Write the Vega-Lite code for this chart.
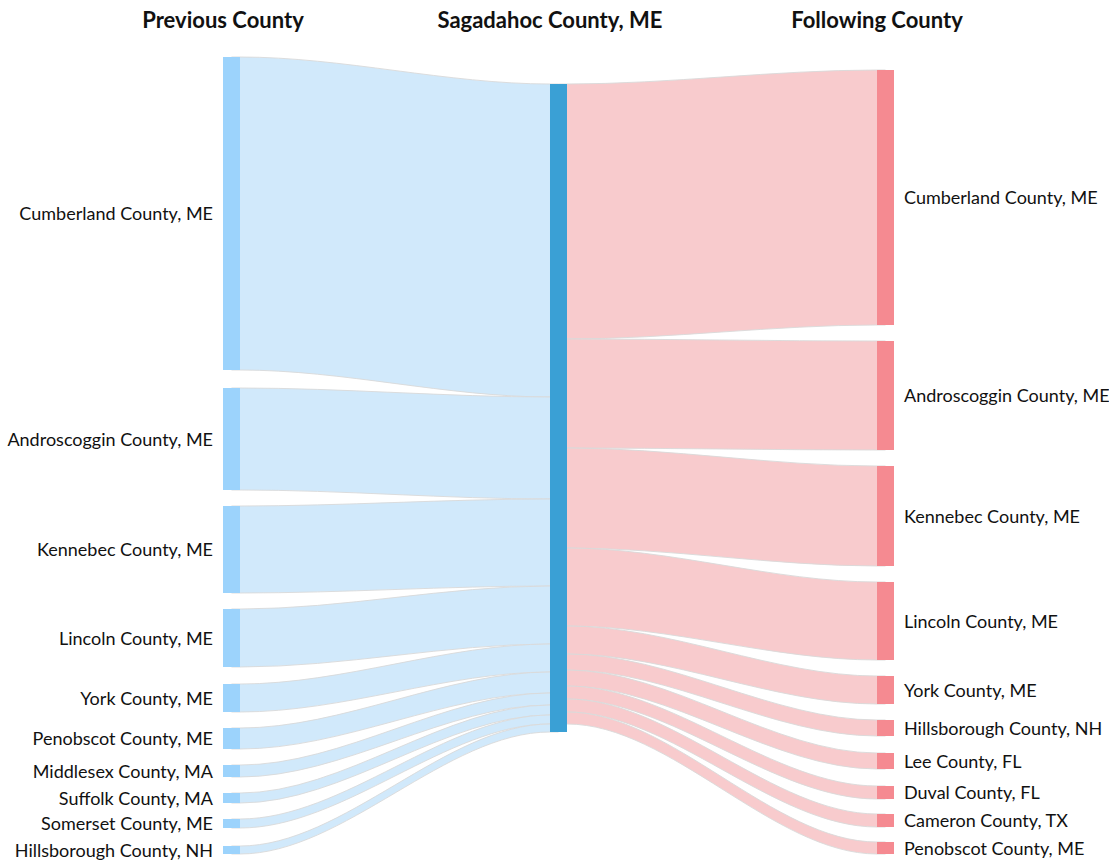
{
  "$schema": "https://vega.github.io/schema/vega-lite/v6.json",
  "width": 1109,
  "height": 863,
  "padding": 0,
  "autosize": {"type": "none"},
  "background": "white",
  "config": {"view": {"stroke": null}, "font": "Lato", "scale": {"continuousPadding": 0}},
  "datasets": {
    "nodes": [
      {"stage": 0, "role": "left", "name": "Cumberland County, ME", "y0": 57, "y1": 370},
      {"stage": 0, "role": "left", "name": "Androscoggin County, ME", "y0": 388, "y1": 490},
      {"stage": 0, "role": "left", "name": "Kennebec County, ME", "y0": 506, "y1": 593},
      {"stage": 0, "role": "left", "name": "Lincoln County, ME", "y0": 609, "y1": 667},
      {"stage": 0, "role": "left", "name": "York County, ME", "y0": 684, "y1": 712},
      {"stage": 0, "role": "left", "name": "Penobscot County, ME", "y0": 728, "y1": 749},
      {"stage": 0, "role": "left", "name": "Middlesex County, MA", "y0": 765, "y1": 777},
      {"stage": 0, "role": "left", "name": "Suffolk County, MA", "y0": 793, "y1": 803},
      {"stage": 0, "role": "left", "name": "Somerset County, ME", "y0": 819, "y1": 828},
      {"stage": 0, "role": "left", "name": "Hillsborough County, NH", "y0": 846, "y1": 854},
      {"stage": 1, "role": "mid", "name": "Sagadahoc County, ME", "y0": 84, "y1": 732},
      {"stage": 2, "role": "right", "name": "Cumberland County, ME", "y0": 70, "y1": 325},
      {"stage": 2, "role": "right", "name": "Androscoggin County, ME", "y0": 341, "y1": 450},
      {"stage": 2, "role": "right", "name": "Kennebec County, ME", "y0": 466, "y1": 566},
      {"stage": 2, "role": "right", "name": "Lincoln County, ME", "y0": 582, "y1": 660},
      {"stage": 2, "role": "right", "name": "York County, ME", "y0": 676, "y1": 704},
      {"stage": 2, "role": "right", "name": "Hillsborough County, NH", "y0": 720, "y1": 736},
      {"stage": 2, "role": "right", "name": "Lee County, FL", "y0": 753, "y1": 769},
      {"stage": 2, "role": "right", "name": "Duval County, FL", "y0": 786, "y1": 799},
      {"stage": 2, "role": "right", "name": "Cameron County, TX", "y0": 814, "y1": 827},
      {"stage": 2, "role": "right", "name": "Penobscot County, ME", "y0": 842, "y1": 854}
    ],
    "headers": [
      {"stage": 0, "title": "Previous County", "y": 20},
      {"stage": 1, "title": "Sagadahoc County, ME", "y": 20},
      {"stage": 2, "title": "Following County", "y": 20}
    ],
    "links": [
      {"link": "in1", "side": "in", "x": 0, "y0": 57, "y1": 370},
      {"link": "in1", "side": "in", "x": 0.026, "y0": 57, "y1": 370},
      {"link": "in1", "side": "in", "x": 0.974, "y0": 84, "y1": 397},
      {"link": "in1", "side": "in", "x": 1, "y0": 84, "y1": 397},
      {"link": "in2", "side": "in", "x": 0, "y0": 388, "y1": 490},
      {"link": "in2", "side": "in", "x": 0.026, "y0": 388, "y1": 490},
      {"link": "in2", "side": "in", "x": 0.974, "y0": 397, "y1": 499},
      {"link": "in2", "side": "in", "x": 1, "y0": 397, "y1": 499},
      {"link": "in3", "side": "in", "x": 0, "y0": 506, "y1": 593},
      {"link": "in3", "side": "in", "x": 0.026, "y0": 506, "y1": 593},
      {"link": "in3", "side": "in", "x": 0.974, "y0": 499, "y1": 586},
      {"link": "in3", "side": "in", "x": 1, "y0": 499, "y1": 586},
      {"link": "in4", "side": "in", "x": 0, "y0": 609, "y1": 667},
      {"link": "in4", "side": "in", "x": 0.026, "y0": 609, "y1": 667},
      {"link": "in4", "side": "in", "x": 0.974, "y0": 586, "y1": 644},
      {"link": "in4", "side": "in", "x": 1, "y0": 586, "y1": 644},
      {"link": "in5", "side": "in", "x": 0, "y0": 684, "y1": 712},
      {"link": "in5", "side": "in", "x": 0.026, "y0": 684, "y1": 712},
      {"link": "in5", "side": "in", "x": 0.974, "y0": 644, "y1": 672},
      {"link": "in5", "side": "in", "x": 1, "y0": 644, "y1": 672},
      {"link": "in6", "side": "in", "x": 0, "y0": 728, "y1": 749},
      {"link": "in6", "side": "in", "x": 0.026, "y0": 728, "y1": 749},
      {"link": "in6", "side": "in", "x": 0.974, "y0": 672, "y1": 693},
      {"link": "in6", "side": "in", "x": 1, "y0": 672, "y1": 693},
      {"link": "in7", "side": "in", "x": 0, "y0": 765, "y1": 777},
      {"link": "in7", "side": "in", "x": 0.026, "y0": 765, "y1": 777},
      {"link": "in7", "side": "in", "x": 0.974, "y0": 693, "y1": 705},
      {"link": "in7", "side": "in", "x": 1, "y0": 693, "y1": 705},
      {"link": "in8", "side": "in", "x": 0, "y0": 793, "y1": 803},
      {"link": "in8", "side": "in", "x": 0.026, "y0": 793, "y1": 803},
      {"link": "in8", "side": "in", "x": 0.974, "y0": 705, "y1": 715},
      {"link": "in8", "side": "in", "x": 1, "y0": 705, "y1": 715},
      {"link": "in9", "side": "in", "x": 0, "y0": 819, "y1": 828},
      {"link": "in9", "side": "in", "x": 0.026, "y0": 819, "y1": 828},
      {"link": "in9", "side": "in", "x": 0.974, "y0": 715, "y1": 724},
      {"link": "in9", "side": "in", "x": 1, "y0": 715, "y1": 724},
      {"link": "in10", "side": "in", "x": 0, "y0": 846, "y1": 854},
      {"link": "in10", "side": "in", "x": 0.026, "y0": 846, "y1": 854},
      {"link": "in10", "side": "in", "x": 0.974, "y0": 724, "y1": 732},
      {"link": "in10", "side": "in", "x": 1, "y0": 724, "y1": 732},
      {"link": "out1", "side": "out", "x": 1, "y0": 84, "y1": 339},
      {"link": "out1", "side": "out", "x": 1.026, "y0": 84, "y1": 339},
      {"link": "out1", "side": "out", "x": 1.974, "y0": 70, "y1": 325},
      {"link": "out1", "side": "out", "x": 2, "y0": 70, "y1": 325},
      {"link": "out2", "side": "out", "x": 1, "y0": 339, "y1": 448},
      {"link": "out2", "side": "out", "x": 1.026, "y0": 339, "y1": 448},
      {"link": "out2", "side": "out", "x": 1.974, "y0": 341, "y1": 450},
      {"link": "out2", "side": "out", "x": 2, "y0": 341, "y1": 450},
      {"link": "out3", "side": "out", "x": 1, "y0": 448, "y1": 548},
      {"link": "out3", "side": "out", "x": 1.026, "y0": 448, "y1": 548},
      {"link": "out3", "side": "out", "x": 1.974, "y0": 466, "y1": 566},
      {"link": "out3", "side": "out", "x": 2, "y0": 466, "y1": 566},
      {"link": "out4", "side": "out", "x": 1, "y0": 548, "y1": 626},
      {"link": "out4", "side": "out", "x": 1.026, "y0": 548, "y1": 626},
      {"link": "out4", "side": "out", "x": 1.974, "y0": 582, "y1": 660},
      {"link": "out4", "side": "out", "x": 2, "y0": 582, "y1": 660},
      {"link": "out5", "side": "out", "x": 1, "y0": 626, "y1": 654},
      {"link": "out5", "side": "out", "x": 1.026, "y0": 626, "y1": 654},
      {"link": "out5", "side": "out", "x": 1.974, "y0": 676, "y1": 704},
      {"link": "out5", "side": "out", "x": 2, "y0": 676, "y1": 704},
      {"link": "out6", "side": "out", "x": 1, "y0": 654, "y1": 670},
      {"link": "out6", "side": "out", "x": 1.026, "y0": 654, "y1": 670},
      {"link": "out6", "side": "out", "x": 1.974, "y0": 720, "y1": 736},
      {"link": "out6", "side": "out", "x": 2, "y0": 720, "y1": 736},
      {"link": "out7", "side": "out", "x": 1, "y0": 670, "y1": 686},
      {"link": "out7", "side": "out", "x": 1.026, "y0": 670, "y1": 686},
      {"link": "out7", "side": "out", "x": 1.974, "y0": 753, "y1": 769},
      {"link": "out7", "side": "out", "x": 2, "y0": 753, "y1": 769},
      {"link": "out8", "side": "out", "x": 1, "y0": 686, "y1": 699},
      {"link": "out8", "side": "out", "x": 1.026, "y0": 686, "y1": 699},
      {"link": "out8", "side": "out", "x": 1.974, "y0": 786, "y1": 799},
      {"link": "out8", "side": "out", "x": 2, "y0": 786, "y1": 799},
      {"link": "out9", "side": "out", "x": 1, "y0": 699, "y1": 712},
      {"link": "out9", "side": "out", "x": 1.026, "y0": 699, "y1": 712},
      {"link": "out9", "side": "out", "x": 1.974, "y0": 814, "y1": 827},
      {"link": "out9", "side": "out", "x": 2, "y0": 814, "y1": 827},
      {"link": "out10", "side": "out", "x": 1, "y0": 712, "y1": 724},
      {"link": "out10", "side": "out", "x": 1.026, "y0": 712, "y1": 724},
      {"link": "out10", "side": "out", "x": 1.974, "y0": 842, "y1": 854},
      {"link": "out10", "side": "out", "x": 2, "y0": 842, "y1": 854}
    ]
  },
  "resolve": {"scale": {"color": "independent"}},
  "layer": [
    {
      "data": {"name": "links"},
      "mark": {"type": "area", "interpolate": "monotone", "stroke": "#d9d9d9", "strokeWidth": 1, "strokeOpacity": 0.9},
      "encoding": {
        "x": {"field": "x", "type": "quantitative", "scale": {"domain": [-0.70795, 2.68349], "nice": false, "zero": false, "padding": 0}, "axis": null},
        "y": {"field": "y0", "type": "quantitative", "stack": null, "scale": {"domain": [0, 863], "reverse": true, "nice": false, "zero": false, "padding": 0}, "axis": null},
        "y2": {"field": "y1"},
        "detail": {"field": "link"},
        "fill": {"field": "side", "type": "nominal", "scale": {"domain": ["in", "out"], "range": ["#d1e9fb", "#f8cbcd"]}, "legend": null}
      }
    },
    {
      "data": {"name": "nodes"},
      "mark": {"type": "bar", "width": 17},
      "encoding": {
        "x": {"field": "stage", "type": "quantitative"},
        "y": {"field": "y0", "type": "quantitative", "stack": null},
        "y2": {"field": "y1"},
        "color": {"field": "role", "type": "nominal", "scale": {"domain": ["left", "mid", "right"], "range": ["#9cd3fc", "#3aa0d5", "#f58a91"]}, "legend": null}
      }
    },
    {
      "data": {"name": "nodes"},
      "transform": [{"filter": "datum.role == 'left'"}, {"calculate": "(datum.y0 + datum.y1) / 2", "as": "mid"}],
      "mark": {"type": "text", "align": "right", "baseline": "middle", "dx": -18.5, "dy": 1.5, "fontSize": 18, "font": "Lato", "color": "#111"},
      "encoding": {
        "x": {"field": "stage", "type": "quantitative"},
        "y": {"field": "mid", "type": "quantitative"},
        "text": {"field": "name"}
      }
    },
    {
      "data": {"name": "nodes"},
      "transform": [{"filter": "datum.role == 'right'"}, {"calculate": "(datum.y0 + datum.y1) / 2", "as": "mid"}],
      "mark": {"type": "text", "align": "left", "baseline": "middle", "dx": 18.5, "dy": 1.5, "fontSize": 18, "font": "Lato", "color": "#111"},
      "encoding": {
        "x": {"field": "stage", "type": "quantitative"},
        "y": {"field": "mid", "type": "quantitative"},
        "text": {"field": "name"}
      }
    },
    {
      "data": {"name": "headers"},
      "mark": {"type": "text", "align": "center", "baseline": "middle", "dx": -8.5, "dy": 1, "fontSize": 22, "font": "Lato", "fontWeight": "bold", "color": "#111"},
      "encoding": {
        "x": {"field": "stage", "type": "quantitative"},
        "y": {"field": "y", "type": "quantitative"},
        "text": {"field": "title"}
      }
    }
  ]
}
